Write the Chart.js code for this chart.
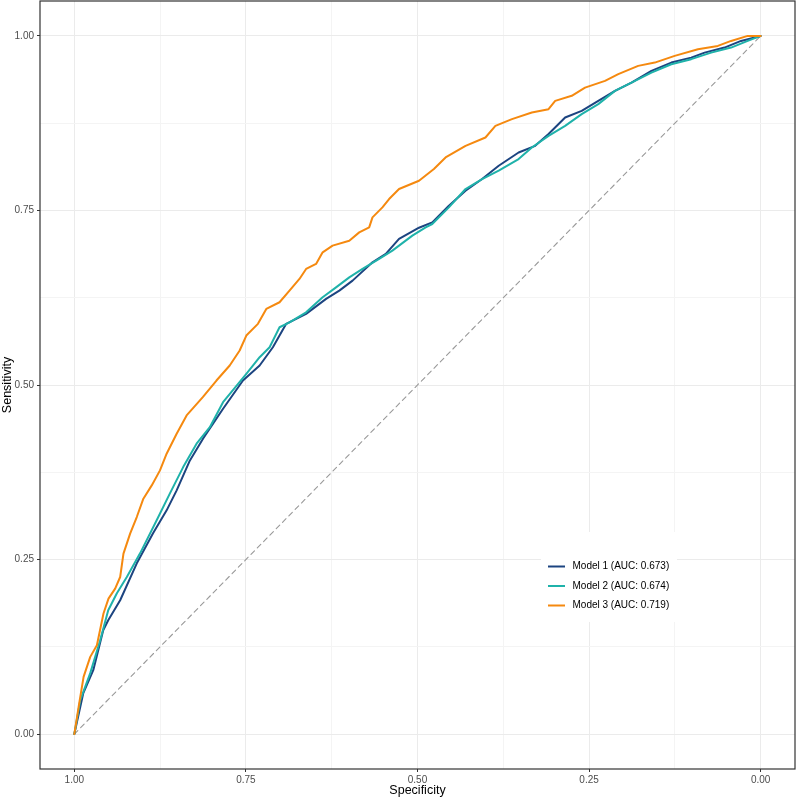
<!DOCTYPE html>
<html>
<head>
<meta charset="utf-8">
<script src="https://cdn.jsdelivr.net/npm/chart.js@4.4.1/dist/chart.umd.min.js"></script>
<style>
  body { margin: 0; background: #fff; }
  #wrap { width: 799px; height: 799px; }
</style>
</head>
<body>
<div id="wrap"><canvas id="roc"></canvas></div>
<script>
// ROC curves, values
var model1Spec = [1.0, 0.9869, 0.9724, 0.9579, 0.9506, 0.9332, 0.9090, 0.8853, 0.8655, 0.8509, 0.8316, 0.8123, 0.7833, 0.7543, 0.7300, 0.7107, 0.6913, 0.6623, 0.6332, 0.6139, 0.5946, 0.5656, 0.5462, 0.5269, 0.4978, 0.4785, 0.4543, 0.4300, 0.4059, 0.3817, 0.3527, 0.3285, 0.3091, 0.2849, 0.2608, 0.2366, 0.2123, 0.1882, 0.1592, 0.1302, 0.1012, 0.0817, 0.0527, 0.0286, 0];
var model1Sens = [0, 0.0587, 0.0916, 0.1488, 0.1631, 0.1917, 0.2446, 0.2876, 0.3205, 0.3491, 0.3920, 0.4235, 0.4660, 0.5064, 0.5279, 0.5541, 0.5876, 0.6019, 0.6233, 0.6352, 0.6495, 0.6757, 0.6877, 0.7092, 0.7253, 0.7329, 0.7568, 0.7783, 0.7950, 0.8140, 0.8330, 0.8426, 0.8594, 0.8831, 0.8927, 0.9070, 0.9213, 0.9332, 0.9499, 0.9618, 0.9689, 0.9761, 0.9833, 0.9928, 1.0];

var model2Spec = [1.0, 0.9913, 0.9768, 0.9623, 0.9506, 0.9380, 0.9235, 0.9042, 0.8800, 0.8607, 0.8414, 0.8219, 0.8026, 0.7833, 0.7494, 0.7300, 0.7155, 0.7010, 0.6865, 0.6623, 0.6382, 0.6187, 0.5994, 0.5801, 0.5559, 0.5366, 0.5075, 0.4881, 0.4785, 0.4543, 0.4300, 0.4059, 0.3817, 0.3527, 0.3334, 0.3091, 0.2849, 0.2608, 0.2366, 0.2123, 0.1882, 0.1592, 0.1302, 0.1012, 0.0721, 0.0431, 0.0189, 0];
var model2Sens = [0, 0.0486, 0.0873, 0.1345, 0.1774, 0.2017, 0.2250, 0.2589, 0.3062, 0.3448, 0.3824, 0.4159, 0.4396, 0.4754, 0.5160, 0.5398, 0.5541, 0.5827, 0.5898, 0.6041, 0.6256, 0.6399, 0.6542, 0.6662, 0.6805, 0.6924, 0.7139, 0.7258, 0.7306, 0.7544, 0.7807, 0.7950, 0.8069, 0.8236, 0.8402, 0.8569, 0.8712, 0.8880, 0.9023, 0.9213, 0.9332, 0.9475, 0.9594, 0.9667, 0.9761, 0.9833, 0.9928, 1.0];

var model3Spec = [1.0, 0.9937, 0.9865, 0.9768, 0.9671, 0.9575, 0.9502, 0.9405, 0.9332, 0.9284, 0.9187, 0.9090, 0.8994, 0.8872, 0.8752, 0.8655, 0.8509, 0.8364, 0.8128, 0.7929, 0.7736, 0.7591, 0.7494, 0.7325, 0.7203, 0.7010, 0.6865, 0.6720, 0.6623, 0.6478, 0.6382, 0.6237, 0.5994, 0.5849, 0.5704, 0.5656, 0.5511, 0.5414, 0.5269, 0.4978, 0.4761, 0.4591, 0.4300, 0.4010, 0.3865, 0.3624, 0.3334, 0.3091, 0.2994, 0.2753, 0.2559, 0.2268, 0.2075, 0.1785, 0.1543, 0.1253, 0.0914, 0.0624, 0.0431, 0.0189, 0];
var model3Sens = [0, 0.0391, 0.0820, 0.1106, 0.1273, 0.1727, 0.1941, 0.2084, 0.2250, 0.2585, 0.2871, 0.3109, 0.3372, 0.3562, 0.3777, 0.4016, 0.4302, 0.4564, 0.4826, 0.5064, 0.5279, 0.5494, 0.5708, 0.5876, 0.6090, 0.6185, 0.6352, 0.6519, 0.6662, 0.6734, 0.6900, 0.6996, 0.7067, 0.7186, 0.7258, 0.7401, 0.7544, 0.7664, 0.7807, 0.7926, 0.8093, 0.8259, 0.8426, 0.8545, 0.8712, 0.8808, 0.8903, 0.8951, 0.9070, 0.9142, 0.9260, 0.9356, 0.9452, 0.9571, 0.9618, 0.9714, 0.9810, 0.9857, 0.9928, 1.0, 1.0];

var diagSpec = [1, 0];
var diagSens = [0, 1];

var labels = ['Model 1 (AUC: 0.673)', 'Model 2 (AUC: 0.674)', 'Model 3 (AUC: 0.719)'];
var colors = ['#1c4480', '#1fb2aa', '#f5890f'];
var tickValues = [0, 0.125, 0.25, 0.375, 0.5, 0.625, 0.75, 0.875, 1];

function pts(xs, ys) {
    return xs.map(function (x, i) { return { x: x, y: ys[i] }; });
}

function isMajor(v) {
    return Math.abs(v * 4 - Math.round(v * 4)) < 1e-6;
}

var FONT = 'Liberation Sans, Arial, Helvetica, sans-serif';

// panel border + legend drawn on top
var extras = {
    id: 'extras',
    afterDraw: function (chart) {
        var c = chart.ctx;
        var a = chart.chartArea;
        c.save();
        // legend box
        c.fillStyle = '#ffffff';
        c.fillRect(541, 532, 136, 90);
        var ys = [566.5, 586, 605.5];
        c.font = '10px ' + FONT;
        c.textBaseline = 'middle';
        c.textAlign = 'left';
        for (var i = 0; i < labels.length; i++) {
            c.strokeStyle = colors[i];
            c.lineWidth = 2;
            c.beginPath();
            c.moveTo(548, ys[i]);
            c.lineTo(565, ys[i]);
            c.stroke();
            c.fillStyle = '#000000';
            c.fillText(labels[i], 572.5, ys[i]);
        }
        // panel border
        c.strokeStyle = '#333333';
        c.lineWidth = 1.2;
        c.strokeRect(a.left, a.top, a.right - a.left, a.bottom - a.top);
        c.restore();
    }
};

function gridColor(ctx) {
    return isMajor(ctx.tick.value) ? '#ebebeb' : '#f4f4f4';
}
function tickColor(ctx) {
    return isMajor(ctx.tick.value) ? '#333333' : 'rgba(0,0,0,0)';
}
function tickLabel(v) {
    return isMajor(v) ? v.toFixed(2) : '';
}

var ctx = document.getElementById('roc');
var myChart = new Chart(ctx, {
    type: 'line',
    data: {
        datasets: [
            { label: 'diag', data: pts(diagSpec, diagSens), borderColor: '#999999', borderWidth: 1.1, borderDash: [5, 4], order: 3 },
            { label: labels[0], data: pts(model1Spec, model1Sens), borderColor: colors[0], borderWidth: 2, order: 2 },
            { label: labels[1], data: pts(model2Spec, model2Sens), borderColor: colors[1], borderWidth: 2, order: 1 },
            { label: labels[2], data: pts(model3Spec, model3Sens), borderColor: colors[2], borderWidth: 2, order: 0 }
        ]
    },
    options: {
        responsive: true,
        maintainAspectRatio: false,
        animation: false,
        layout: { padding: { top: 1, right: 4, left: 0, bottom: 0 } },
        elements: {
            point: { radius: 0 },
            line: { tension: 0, borderJoinStyle: 'round', borderCapStyle: 'round', fill: false }
        },
        plugins: { legend: { display: false }, tooltip: { enabled: false } },
        scales: {
            x: {
                type: 'linear',
                reverse: true,
                min: -0.05,
                max: 1.05,
                afterBuildTicks: function (s) { s.ticks = tickValues.map(function (v) { return { value: v }; }); },
                afterFit: function (s) { s.height = 30; s.paddingLeft = 0; s.paddingRight = 0; },
                border: { display: false },
                grid: { color: gridColor, tickColor: tickColor, lineWidth: 1, tickLength: 3 },
                ticks: { callback: tickLabel, color: '#4d4d4d', font: { family: FONT, size: 10 }, padding: 2, maxRotation: 0, autoSkip: false },
                title: { display: true, text: 'Specificity', color: '#000000', font: { family: FONT, size: 12.5, lineHeight: 1.2 }, padding: { top: 0, bottom: 0.5 } }
            },
            y: {
                type: 'linear',
                min: -0.05,
                max: 1.05,
                afterBuildTicks: function (s) { s.ticks = tickValues.map(function (v) { return { value: v }; }); },
                afterFit: function (s) { s.width = 40; s.paddingTop = 0; s.paddingBottom = 0; },
                border: { display: false },
                grid: { color: gridColor, tickColor: tickColor, lineWidth: 1, tickLength: 3 },
                ticks: { callback: tickLabel, color: '#4d4d4d', font: { family: FONT, size: 10 }, padding: 3, autoSkip: false },
                title: { display: true, text: 'Sensitivity', color: '#000000', font: { family: FONT, size: 12.5, lineHeight: 1.2 }, padding: { top: 0.5, bottom: 0 } }
            }
        }
    },
    plugins: [extras]
});
</script>
</body>
</html>
